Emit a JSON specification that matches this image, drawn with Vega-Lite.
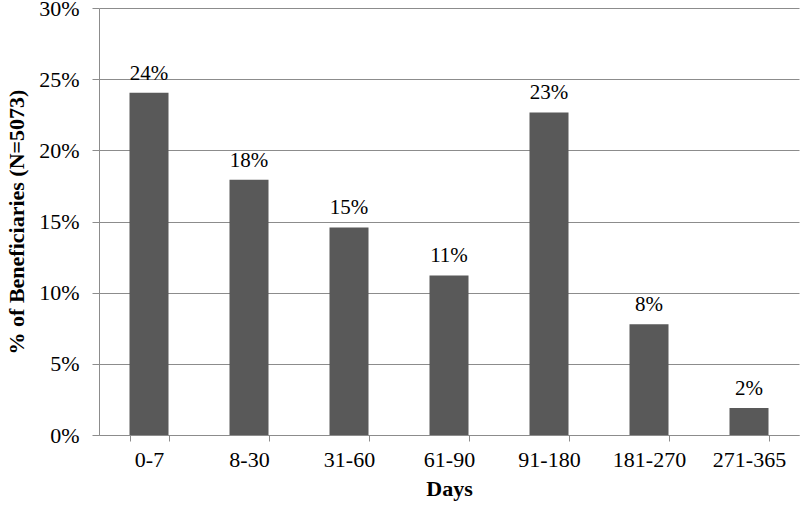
{
  "$schema": "https://vega.github.io/schema/vega-lite/v6.json",
  "width": 700,
  "height": 427,
  "autosize": "none",
  "padding": {"left": 99, "top": 8, "right": 1, "bottom": 70},
  "background": "white",
  "data": {"values": [
    {"days": "0-7", "pct": 0.2404},
    {"days": "8-30", "pct": 0.1794},
    {"days": "31-60", "pct": 0.1458},
    {"days": "61-90", "pct": 0.1121},
    {"days": "91-180", "pct": 0.2266},
    {"days": "181-270", "pct": 0.0778},
    {"days": "271-365", "pct": 0.0189}
  ]},
  "config": {
    "font": "Liberation Serif",
    "view": {"stroke": null},
    "axis": {
      "labelFont": "Liberation Serif",
      "titleFont": "Liberation Serif",
      "labelFontSize": 22,
      "titleFontSize": 22,
      "labelColor": "#000000",
      "titleColor": "#000000",
      "domainColor": "#8c8c8c",
      "tickColor": "#8c8c8c",
      "gridColor": "#8c8c8c",
      "domainWidth": 1,
      "tickWidth": 1,
      "gridWidth": 1
    }
  },
  "layer": [
    {
      "mark": {"type": "bar", "color": "#595959"},
      "encoding": {
        "x": {
          "field": "days", "type": "nominal", "sort": null,
          "scale": {"paddingInner": 0.61, "paddingOuter": 0.305},
          "axis": {
            "title": "Days", "labelAngle": 0, "tickBand": "extent",
            "tickSize": 6, "labelPadding": 8, "titlePadding": 8,
            "grid": false, "titleFontWeight": "bold"
          }
        },
        "y": {
          "field": "pct", "type": "quantitative",
          "scale": {"domain": [0, 0.3]},
          "axis": {
            "title": "% of Beneficiaries (N=5073)", "format": ".0%",
            "values": [0, 0.05, 0.1, 0.15, 0.2, 0.25, 0.3],
            "tickSize": 7, "labelPadding": 13, "titlePadding": 10,
            "grid": true, "titleFontWeight": "bold"
          }
        }
      }
    },
    {
      "mark": {"type": "text", "fontSize": 21, "font": "Liberation Serif", "baseline": "alphabetic", "dy": -13, "color": "#000000"},
      "encoding": {
        "x": {"field": "days", "type": "nominal", "sort": null},
        "y": {"field": "pct", "type": "quantitative"},
        "text": {"field": "pct", "type": "quantitative", "format": ".0%"}
      }
    }
  ]
}
